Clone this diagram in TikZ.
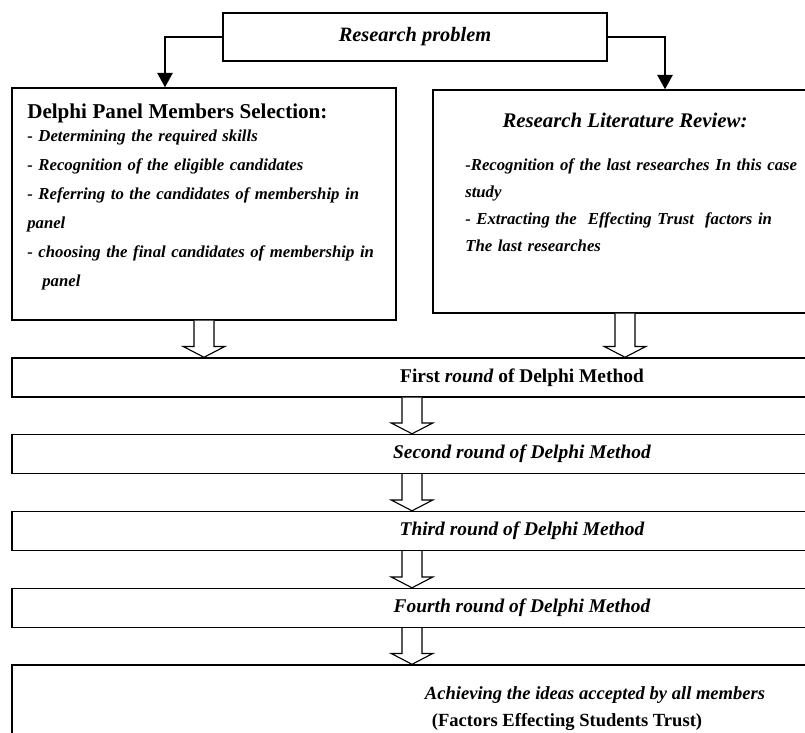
\documentclass[tikz,border=0pt]{standalone}
\usepackage{fontspec}
\setmainfont{Liberation Serif}
\usetikzlibrary{arrows.meta,calc}

\newcommand{\hollowdown}[2]{%
  \draw[hollow] ($(#1)+(-0.25,0)$) -- ($(#2)+(-0.25,0.27)$) -- ++(-0.27,0) -- (#2)
    -- ++(0.52,0.27) -- ++(-0.27,0) -- ($(#1)+(0.25,0)$);
}

\begin{document}
\begin{tikzpicture}[
    box/.style={draw, line width=1pt, inner sep=0pt},
    feed/.style={line width=1.5pt, -{Triangle[width=0.38cm,length=0.36cm]}},
    hollow/.style={line width=0.8pt, fill=white},
    bodyfont/.style={font=\fontsize{11.9}{20.6}\selectfont\bfseries\itshape},
    round/.style={box, minimum width=25.5cm, minimum height=0.975cm,
      font=\fontsize{13.8}{16}\selectfont\bfseries\itshape}
  ]
  \useasboundingbox (0,0) rectangle (20.125,18.3);
  \clip (0,0) rectangle (20.125,18.3);

  \node[box, minimum width=9.6cm, minimum height=1.2cm,
    font=\fontsize{14.5}{17}\selectfont\bfseries\itshape] (rp) at (10.375,17.375) {Research problem};

  \node[box, minimum width=9.6cm, minimum height=5.8cm] (sel) at (5.1,13.2) {};
  \node[box, minimum width=9.6cm, minimum height=5.575cm] (lit) at (15.625,13.2625) {};

  \draw[feed] (rp.west) -| ([xshift=-0.975cm]sel.north);
  \draw[feed] (rp.east) -| ([xshift=1cm]lit.north);

  \node[bodyfont, anchor=north west, inner sep=0pt, text width=8.8cm, align=left] (seltxt) at (0.675,15.72)
    {{\upshape\fontsize{15}{16}\selectfont Delphi Panel Members Selection:}\\[-4pt]
     - Determining the required skills\\
     - Recognition of the eligible candidates\\
     \makebox[8.8cm][s]{- Referring to the candidates of membership in}\\
     panel\\
     \makebox[8.8cm][s]{- choosing the final candidates of membership in}\\
     \hspace*{0.9em}panel};

  \node[font=\fontsize{14.8}{17}\selectfont\bfseries\itshape] (littl) at (15.625,15.3) {Research Literature Review:};
  \node[font=\fontsize{11.9}{19.4}\selectfont\bfseries\itshape, anchor=north west, inner sep=0pt, text width=8.45cm, align=left] (littxt) at (11.625,14.35)
    {-Recognition of the last researches In this case\\
     study\\
     \makebox[8.45cm][s]{- Extracting the\ \ Effecting Trust\ \ factors in}\\
     The last researches};

  \node[round] (first) at (13.05,8.8625) {\upshape First \itshape round \upshape of Delphi Method};
  \node[round] (second) at (13.05,6.95) {Second round of Delphi Method};
  \node[round] (third) at (13.05,5.025) {Third round of Delphi Method};
  \node[round] (fourth) at (13.05,3.1) {Fourth round of Delphi Method};
  \node[box, minimum width=29.15cm, minimum height=2.175cm, align=center,
    font=\fontsize{13.2}{19.2}\selectfont\bfseries\itshape] (final) at (14.875,0.5875)
    {Achieving the ideas accepted by all members\\ {\upshape (Factors Effecting Students Trust)}\hspace*{1.4cm}};

  \coordinate (mid) at (10.3,0);
  \hollowdown{sel.south}{sel.south |- first.north}
  \hollowdown{lit.south}{lit.south |- first.north}
  \hollowdown{first.south -| mid}{second.north -| mid}
  \hollowdown{second.south -| mid}{third.north -| mid}
  \hollowdown{third.south -| mid}{fourth.north -| mid}
  \hollowdown{fourth.south -| mid}{final.north -| mid}
\end{tikzpicture}
\end{document}
